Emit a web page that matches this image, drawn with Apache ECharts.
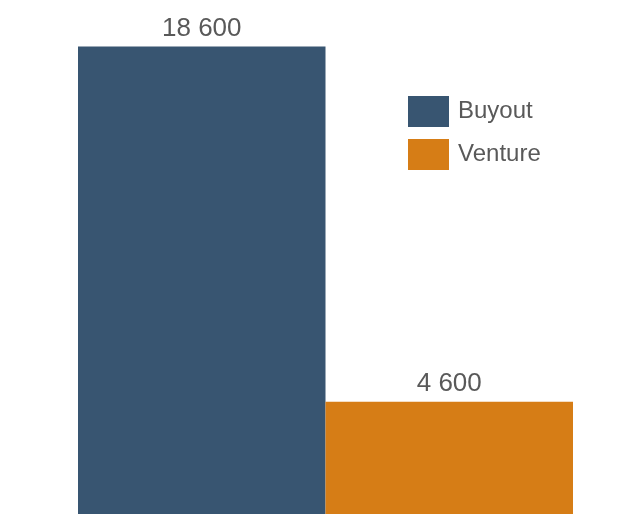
<!DOCTYPE html>
<html>
<head>
<meta charset="utf-8">
<script src="https://cdn.jsdelivr.net/npm/echarts@6/dist/echarts.min.js"></script>
<style>html,body{margin:0;padding:0;background:#fff;}#c{width:630px;height:514px;}</style>
</head>
<body>
<div id="c"></div>
<script>
const categories = [''];
const seriesNames = ['Buyout', 'Venture'];
const buyout = [18600];
const venture = [4600];
const colors = ['#385571', '#d67d16'];

const chart = echarts.init(document.getElementById('c'));
const labelStyle = {
  show: true, position: 'top', distance: 5,
  fontFamily: 'Liberation Sans', fontSize: 26, color: '#595959',
  formatter: p => String(p.value).replace(/\B(?=(\d{3})+(?!\d))/g, ' ')
};
chart.setOption({
  animation: false,
  grid: { left: 78, width: 495, top: 11, height: 507.5, outerBoundsMode: 'none', containLabel: false },
  legend: {
    orient: 'vertical', left: 403, top: 91,
    itemWidth: 41, itemHeight: 31, itemGap: 12,
    icon: 'rect',
    textStyle: { fontFamily: 'Liberation Sans', fontSize: 24, color: '#595959', padding: [3, 0, 0, 4] },
    data: seriesNames
  },
  xAxis: { type: 'category', data: categories, show: false },
  yAxis: { type: 'value', min: 0, max: 20000, show: false },
  series: [
    { name: seriesNames[0], type: 'bar', data: buyout, barWidth: 247.5, barGap: '0%', itemStyle: { color: colors[0] }, label: labelStyle },
    { name: seriesNames[1], type: 'bar', data: venture, barWidth: 247.5, barGap: '0%', itemStyle: { color: colors[1] }, label: labelStyle }
  ]
});
</script>
</body>
</html>
